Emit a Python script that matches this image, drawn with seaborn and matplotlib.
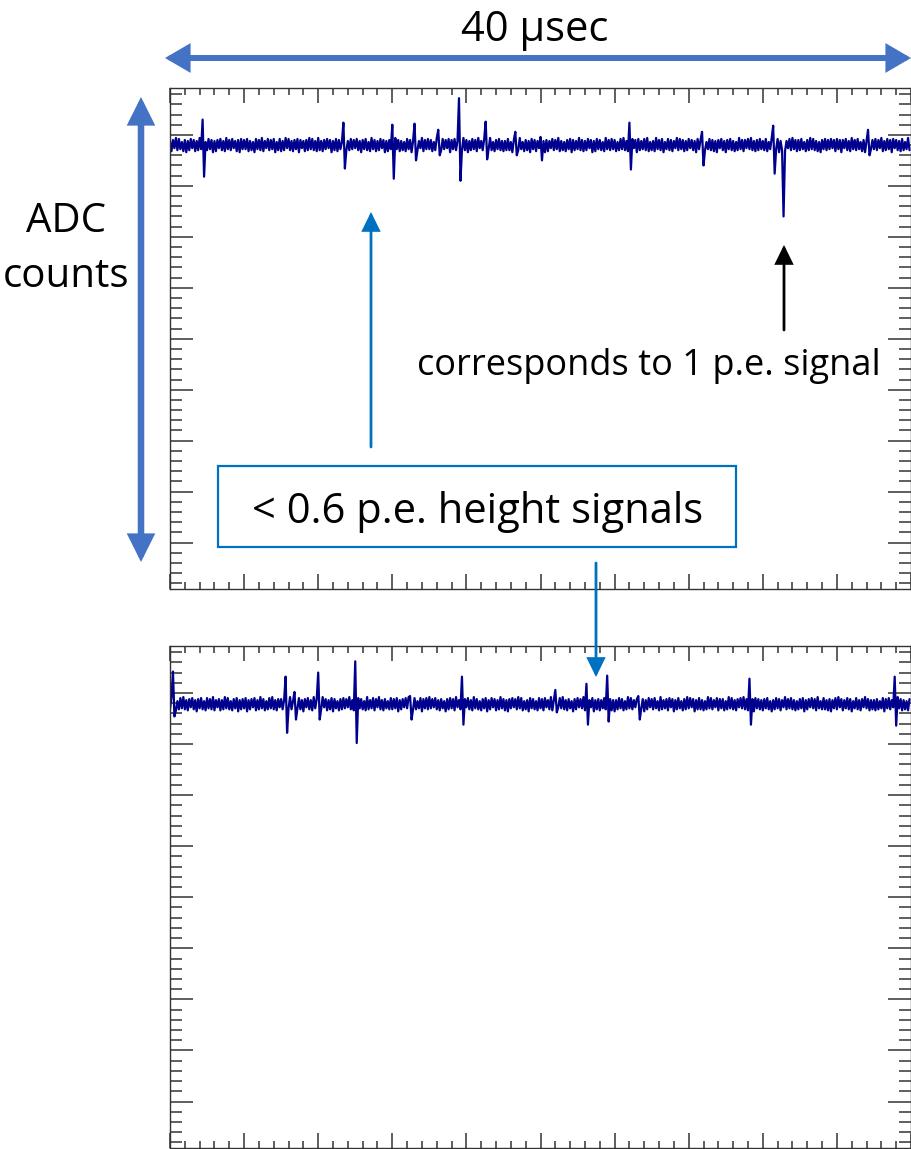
import numpy as np
import pandas as pd
import seaborn as sns
import matplotlib
matplotlib.use("Agg")
import matplotlib.pyplot as plt
from matplotlib.patches import FancyArrowPatch, Rectangle
from matplotlib.ticker import MultipleLocator

# ---------------- data ----------------
SAMPLE_US = 0.08          # sampling step of the displayed waveform, microseconds
N_SAMPLES = 500           # 40 usec window

baseline_top = 3990       # ADC counts
baseline_bottom = 3989

# baseline noise (ADC counts relative to baseline)
noise_top = [
    4,-6,5,-3,7,-5,6,-4,3,-6,5,-7,4,-5,6,-3,5,-6,4,-5,7,-4,6,-5,3,
    -5,6,-4,5,-7,4,-6,5,-3,6,-5,4,-6,7,-4,5,-5,6,-3,4,-6,5,-7,6,-4,
    5,-4,6,-6,4,-5,3,-7,6,-4,5,-5,7,-6,4,-3,6,-5,5,-4,6,-7,3,-5,6,
    -6,4,-5,7,-3,6,-5,4,-6,5,-4,6,-7,5,-3,4,-6,5,-5,7,-4,6,-5,4,-6,
    7,-5,4,-6,5,-4,6,-3,5,-7,4,-5,6,-6,5,-4,3,-6,7,-5,4,-5,6,-4,5,
    -3,6,-5,4,-7,5,-4,6,-5,3,-6,7,-4,5,-6,4,-5,6,-3,5,-7,4,-6,5,-4,
    6,-5,7,-4,5,-6,4,-5,3,-6,6,-4,5,-7,4,-5,6,-5,4,-3,7,-6,5,-4,6,
    -4,5,-6,3,-5,7,-6,4,-5,6,-4,5,-3,6,-7,5,-4,6,-5,4,-6,3,-5,7,-5,
    5,-7,4,-5,6,-4,5,-6,7,-3,4,-5,6,-6,5,-4,7,-5,3,-6,5,-4,6,-5,4,
    -6,4,-5,6,-5,3,-7,5,-4,6,-5,7,-4,3,-6,5,-5,4,-7,6,-4,5,-6,4,-3,
    6,-5,4,-7,5,-6,4,-3,6,-5,5,-4,7,-6,4,-5,3,-6,5,-4,6,-7,5,-5,4,
    -4,7,-5,5,-6,4,-5,6,-3,5,-7,4,-6,6,-4,5,-5,3,-6,7,-4,5,-5,6,-4,
    5,-6,3,-5,6,-4,7,-5,4,-6,5,-4,6,-3,5,-7,6,-5,4,-4,6,-5,7,-6,3,
    -5,4,-6,7,-4,5,-5,6,-7,3,-4,6,-5,5,-6,4,-3,7,-5,6,-4,5,-6,4,-5,
    6,-3,5,-5,4,-7,6,-4,5,-6,7,-5,3,-4,6,-5,5,-6,4,-7,5,-3,6,-5,4,
    -7,5,-4,6,-5,4,-6,3,-5,7,-4,5,-6,5,-3,6,-4,7,-5,4,-6,5,-5,6,-4,
    4,-5,6,-6,3,-4,7,-5,5,-4,6,-7,4,-5,5,-6,4,-3,6,-5,7,-4,5,-6,5,
    -5,6,-4,3,-6,5,-5,7,-4,6,-5,4,-6,3,-7,5,-4,6,-5,5,-4,6,-3,5,-6,
    6,-4,5,-7,5,-3,6,-5,4,-6,7,-4,5,-5,6,-4,3,-6,5,-7,4,-5,6,-4,5,
    -4,6,-5,5,-3,7,-6,4,-5,6,-4,5,-7,6,-3,5,-5,4,-6,6,-5,3,-4,7,-5,
]
noise_bottom = [
    -5,7,-4,5,-6,3,-5,6,-4,7,-5,4,-6,5,-3,6,-5,4,-7,5,-4,6,-5,3,-6,
    6,-4,5,-5,7,-6,4,-3,5,-6,4,-5,7,-4,6,-5,3,-6,5,-4,6,-7,4,-5,5,
    -4,6,-7,4,-5,5,-3,6,-6,4,-5,7,-4,5,-6,3,-5,6,-4,7,-5,4,-6,5,-3,
    5,-5,4,-6,6,-4,7,-5,3,-6,5,-4,6,-5,4,-7,5,-3,6,-5,4,-6,7,-4,5,
    -6,4,-5,7,-3,5,-6,4,-5,6,-7,5,-4,3,-6,5,-5,6,-4,5,-3,7,-5,4,-6,
    4,-7,6,-4,5,-5,3,-6,7,-5,4,-4,6,-6,5,-3,7,-5,4,-6,5,-4,3,-5,6,
    -5,5,-4,6,-7,4,-5,5,-3,6,-4,7,-6,4,-5,6,-5,3,-4,6,-7,5,-4,6,-5,
    7,-4,5,-3,6,-5,4,-6,5,-4,3,-7,5,-5,6,-4,5,-6,7,-3,4,-5,6,-4,5,
    -3,6,-5,4,-6,7,-4,5,-5,3,-6,5,-4,6,-7,4,-5,6,-3,5,-6,4,-5,7,-4,
    5,-6,4,-7,5,-4,6,-3,5,-5,7,-4,6,-6,3,-5,4,-7,6,-4,5,-5,3,-6,6,
    -4,5,-6,6,-3,4,-5,7,-6,4,-5,5,-3,6,-4,7,-5,4,-6,5,-4,3,-7,5,-5,
    6,-3,5,-4,7,-6,5,-5,4,-3,6,-7,4,-5,5,-6,4,-4,6,-5,7,-3,5,-6,4,
    -7,4,-5,6,-4,5,-6,3,-5,7,-4,6,-5,4,-3,5,-6,6,-4,5,-7,4,-5,6,-3,
    5,-5,6,-4,3,-6,7,-5,4,-4,5,-6,6,-3,5,-7,4,-5,6,-4,3,-6,5,-5,7,
    -4,6,-3,5,-7,4,-5,6,-5,4,-6,3,-5,7,-4,6,-5,4,-3,6,-6,5,-4,5,-6,
    3,-5,7,-4,6,-5,4,-6,5,-3,6,-4,7,-5,5,-6,4,-3,5,-7,6,-4,5,-5,4,
    -6,5,-4,6,-5,3,-7,4,-5,6,-4,5,-6,4,-3,7,-5,5,-4,6,-5,4,-6,3,-5,
    5,-4,6,-7,4,-5,5,-3,6,-4,5,-6,7,-4,3,-5,6,-5,4,-6,5,-7,4,-4,6,
    -5,7,-3,5,-6,4,-4,6,-5,5,-7,3,-4,6,-5,4,-6,5,-3,7,-4,5,-6,4,-5,
    4,-6,5,-5,3,-4,6,-7,5,-4,6,-5,4,-3,6,-5,7,-4,5,-6,4,-5,3,-6,5,
]

# pulses: time (usec), positive excursion, negative excursion (ADC counts)
pulse_t_top    = [1.73, 9.34, 12.04, 13.17, 14.47, 15.60, 17.06, 18.62, 20.03, 24.78, 28.72, 32.55, 33.14, 37.68]
pulse_up_top   = [25,   22,   20,    21,    15,    46,    23,    13,    8,     22,    13,    19,    0,     15]
pulse_down_top = [31,   23,   33,    15,    10,    35,    14,    10,    15,    24,    20,    28,    70,    10]

pulse_t_bottom    = [0.16, 6.26, 6.75, 7.99, 10.04, 12.96, 15.76, 20.83, 22.51, 23.59, 25.31, 31.25, 39.14]
pulse_up_bottom   = [32,   27,   12,   31,   42,    8,     27,    14,    20,    28,    8,     25,    27]
pulse_down_bottom = [12,   28,   15,   15,   38,    15,    20,    8,     20,    17,    15,    20,    21]

y_limits = (3554.5, 4046)
x_limits = (0, 40)

# ---------------- style ----------------
sns.set_style("ticks")
plt.rcParams["font.family"] = ["Open Sans", "DejaVu Sans"]

WAVE_COLOR = "#00008f"
ARROW_BLUE = "#4472C4"
BOX_BLUE = "#0070C0"

W, H, DPI = 912, 1149, 100
fig = plt.figure(figsize=(W / DPI, H / DPI), dpi=DPI)


def build_wave(baseline, noise, pt, up, down):
    w = baseline + np.asarray(noise, dtype=float)
    for t, u, d in zip(pt, up, down):
        i = int(round(t / SAMPLE_US))
        if u > 0:
            w[i] = baseline + u
            if i + 1 < len(w):
                w[i + 1] = baseline - d
        else:
            w[i] = baseline - d
    return w


time_us = np.arange(N_SAMPLES) * SAMPLE_US


def panel(rect, wave):
    ax = fig.add_axes(rect)
    df = pd.DataFrame({"t": time_us, "adc": wave})
    sns.lineplot(data=df, x="t", y="adc", ax=ax, color=WAVE_COLOR, lw=1.6,
                 estimator=None, sort=False)
    ax.set_xlim(*x_limits)
    ax.set_ylim(*y_limits)
    ax.set_xlabel("")
    ax.set_ylabel("")
    ax.xaxis.set_major_locator(MultipleLocator(4))
    ax.xaxis.set_minor_locator(MultipleLocator(0.8))
    ax.yaxis.set_major_locator(MultipleLocator(50))
    ax.yaxis.set_minor_locator(MultipleLocator(10))
    ax.tick_params(which="both", direction="in", top=True, right=True,
                   bottom=True, left=True, labelbottom=False, labelleft=False,
                   color="#333333", width=1.1)
    ax.tick_params(axis="x", which="major", length=10.8)
    ax.tick_params(axis="x", which="minor", length=5.0)
    ax.tick_params(axis="y", which="major", length=16.5)
    ax.tick_params(axis="y", which="minor", length=8.5)
    for s in ax.spines.values():
        s.set_color("#333333")
        s.set_linewidth(1.0)
    return ax


def frac_rect(left, top, right, bottom):
    return [left / W, 1 - bottom / H, (right - left) / W, (bottom - top) / H]


wave_top = build_wave(baseline_top, noise_top, pulse_t_top, pulse_up_top, pulse_down_top)
wave_bottom = build_wave(baseline_bottom, noise_bottom, pulse_t_bottom, pulse_up_bottom, pulse_down_bottom)

panel(frac_rect(170, 88, 911, 589), wave_top)
panel(frac_rect(170, 646, 911, 1148), wave_bottom)

# ---------------- annotation overlay (pixel coordinates) ----------------
ov = fig.add_axes([0, 0, 1, 1], zorder=10)
ov.set_xlim(0, W)
ov.set_ylim(H, 0)
ov.axis("off")
ov.patch.set_alpha(0)


def arrow(p0, p1, style, lw, hl, hw, color):
    ov.add_patch(FancyArrowPatch(p0, p1,
                                 arrowstyle=f"{style},head_length={hl},head_width={hw}",
                                 mutation_scale=1, lw=lw, color=color,
                                 shrinkA=0, shrinkB=0, joinstyle="miter"))


arrow((165, 58), (911, 58), "<|-|>", 4.3, 12, 7, ARROW_BLUE)
arrow((141, 97), (141, 562), "<|-|>", 4.7, 13, 6.5, ARROW_BLUE)
arrow((371, 447), (371, 212), "-|>", 2.0, 11, 5.4, BOX_BLUE)
arrow((784, 330), (784, 245), "-|>", 2.0, 11, 5.4, "black")
arrow((596, 563), (596, 677), "-|>", 2.0, 11, 5.4, BOX_BLUE)

ov.add_patch(Rectangle((218, 466), 518, 81, facecolor="white", edgecolor=BOX_BLUE, lw=1.6))

ov.text(535, 41, "40 µsec", ha="center", va="baseline", fontsize=30, color="black")
ov.text(66, 232, "ADC", ha="center", va="baseline", fontsize=29, color="black")
ov.text(66, 287, "counts", ha="center", va="baseline", fontsize=29, color="black")
ov.text(649, 375, "corresponds to 1 p.e. signal", ha="center", va="baseline", fontsize=26, color="black")
ov.text(478, 523, "< 0.6 p.e. height signals", ha="center", va="baseline", fontsize=30, color="black")

fig.savefig("out.png", dpi=DPI)
